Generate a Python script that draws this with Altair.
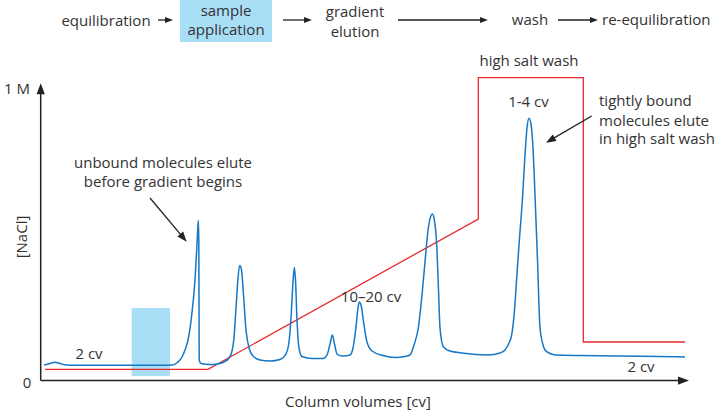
import math
import altair as alt
import pandas as pd

# ---------------- data (x in column volumes, y in % of the 1 M scale) ----------------
trace_cv = [0.4, 1.0, 1.5, 2.0, 2.6, 4.0, 8.0, 12.0, 13.2, 13.8, 14.2, 14.5, 14.8, 15.05,
            15.33, 15.5, 15.67, 15.76, 15.83, 15.88, 15.9, 15.92, 16.1, 17.0, 17.7, 18.4,
            18.9, 19.2, 19.4, 19.6, 19.8, 19.97, 20.15, 20.35, 20.6, 20.9, 21.3, 22.0, 23.0,
            24.0, 24.6, 24.9, 25.1, 25.3, 25.43, 25.55, 25.7, 25.9, 26.2, 27.2, 28.3, 28.7,
            29.0, 29.23, 29.45, 29.7, 30.3, 31.0, 31.3, 31.6, 31.8, 31.93, 32.1, 32.4, 32.7,
            33.2, 34.3, 35.5, 36.5, 37.0, 37.4, 37.83, 38.2, 38.5, 38.83, 39.05, 39.23, 39.4,
            39.67, 39.85, 40.0, 40.33, 41.0, 42.17, 44.8, 46.0, 46.5, 46.9, 47.17, 47.45,
            47.67, 47.9, 48.27, 48.5, 48.7, 48.9, 49.1, 49.3, 49.5, 49.75, 50.0, 50.25, 50.5,
            51.0, 51.6, 54.0, 58.0, 62.0, 64.5]
trace_val = [5.67, 6.17, 6.57, 6.17, 5.67, 5.57, 5.57, 5.57, 5.67, 6.67, 8.33, 10.67, 14.0,
             19.0, 27.33, 34.0, 44.0, 50.0, 53.83, 47.33, 27.33, 7.33, 6.17, 5.83, 6.0, 6.67,
             8.0, 10.33, 14.67, 24.67, 34.67, 38.83, 37.33, 29.0, 17.33, 11.33, 8.67, 7.33,
             7.0, 7.5, 9.33, 13.33, 21.33, 33.33, 38.17, 34.0, 20.67, 11.33, 8.5, 7.83, 7.83,
             9.0, 12.67, 15.67, 12.67, 9.33, 8.67, 9.0, 11.33, 18.33, 24.67, 26.67, 25.67,
             19.0, 13.33, 10.33, 8.83, 8.17, 8.5, 9.0, 12.33, 18.0, 29.0, 40.0, 51.33, 55.0,
             56.0, 54.67, 45.67, 30.67, 18.0, 11.77, 10.33, 9.67, 9.0, 9.67, 10.67, 13.0,
             15.67, 24.0, 34.67, 45.67, 62.33, 75.67, 84.67, 87.9, 86.0, 78.0, 62.33, 40.67,
             18.0, 13.0, 10.67, 9.5, 9.0, 8.83, 8.67, 8.5, 8.33]

salt_cv = [0.5, 16.8, 43.83, 43.83, 54.33, 54.33, 64.5]
salt_val = [4.23, 4.23, 54.33, 101.43, 101.43, 13.33, 13.33]

sample_box_cv = [9.17, 13.0]
sample_box_val = [2.0, 24.67]

header_box_cv = [14.0, 23.2]
header_box_val = [113.33, 127.33]

center_texts = ["equilibration", "sample", "application", "gradient", "elution", "wash",
                "unbound molecules elute", "before gradient begins", "10\u201320 cv",
                "2 cv", "2 cv", "high salt wash", "1-4 cv", "0", "Column volumes [cv]"]
center_cv = [6.6, 22.6 - 4.0, 18.6, 31.5, 31.5, 49.0, 12.3, 12.3, 33.1, 4.9, 60.1, 48.9,
             48.85, -1.3, 31.8]
center_val = [120.33, 123.67, 117.33, 123.33, 116.67, 120.67, 73.0, 66.77, 28.33, 9.33, 5.1,
              107.1, 93.43, -0.33, -6.57]

left_texts = ["re-equilibration", "tightly bound", "molecules elute", "in high salt wash"]
left_cv = [56.2, 55.9, 55.9, 55.9]
left_val = [120.67, 93.77, 87.1, 80.9]

right_texts = ["1 M"]
right_cv = [-1.0]
right_val = [97.7]

yaxis_title = ["[NaCl]"]
yaxis_title_cv = [-1.83]
yaxis_title_val = [48.33]

# arrows: start -> tip, head length in px
arrow_x1 = [11.8, 24.3, 35.8, 51.8, 11.0, 55.17, 0.07, 0.07]
arrow_y1 = [120.67, 120.67, 120.67, 120.67, 61.33, 88.67, 0.5, 0.5]
arrow_x2 = [13.3, 27.2, 44.8, 55.8, 14.67, 50.6, 0.07, 64.9]
arrow_y2 = [120.67, 120.67, 120.67, 120.67, 46.77, 79.77, 99.6, 0.5]
arrow_head = [8, 8, 8, 8, 10, 10, 11, 11]
arrow_w = [1.3, 1.3, 1.3, 1.3, 1.3, 1.3, 1.5, 1.5]

# ---------------- layout ----------------
W, H = 719, 413
XD = [-4.0, 67.9]
YD = [-31 / 3, 382 / 3]
PX_X = W / (XD[1] - XD[0])
PX_Y = H / (YD[1] - YD[0])

FONT = "Open Sans"
TXT = "#333333"
BLUE = "#1677c6"
RED = "#e8282b"
LIGHT = "#a9def7"
AX = "#222222"

xs = alt.Scale(domain=XD, nice=False, zero=False)
ys = alt.Scale(domain=YD, nice=False, zero=False)
X = lambda f: alt.X(f, type="quantitative", scale=xs, axis=None)
Y = lambda f: alt.Y(f, type="quantitative", scale=ys, axis=None)

trace_df = pd.DataFrame({"cv": trace_cv, "v": trace_val})
salt_df = pd.DataFrame({"cv": salt_cv, "v": salt_val, "o": list(range(len(salt_cv)))})
boxes_df = pd.DataFrame({
    "x1": [sample_box_cv[0], header_box_cv[0]], "x2": [sample_box_cv[1], header_box_cv[1]],
    "y1": [sample_box_val[0], header_box_val[0]], "y2": [sample_box_val[1], header_box_val[1]],
})

rows, heads = [], []
for x1, y1, x2, y2, hl, sw in zip(arrow_x1, arrow_y1, arrow_x2, arrow_y2, arrow_head, arrow_w):
    dxp = (x2 - x1) * PX_X
    dyp = -(y2 - y1) * PX_Y  # screen down positive
    L = math.hypot(dxp, dyp)
    ux, uy = dxp / L, dyp / L
    bx = x2 - ux * (hl - 1) / PX_X
    by = y2 + uy * (hl - 1) / PX_Y
    rows.append({"x1": x1, "y1": y1, "x2": bx, "y2": by, "w": sw})
    ang = math.degrees(math.atan2(dxp, -dyp)) % 360
    heads.append({"x": x2, "y": y2, "a": ang, "s": hl * hl})
arrow_df = pd.DataFrame(rows)
head_df = pd.DataFrame(heads)

boxes = alt.Chart(boxes_df).mark_rect(color=LIGHT).encode(
    x=X("x1"), x2="x2", y=Y("y1"), y2="y2")

salt = alt.Chart(salt_df).mark_line(color=RED, strokeWidth=1.3, interpolate="linear").encode(
    x=X("cv"), y=Y("v"), order="o:Q")

trace = alt.Chart(trace_df).mark_line(color=BLUE, strokeWidth=1.5, interpolate="monotone").encode(
    x=X("cv"), y=Y("v"))

arrow_lines = alt.Chart(arrow_df).mark_rule(color=AX).encode(
    x=X("x1"), y=Y("y1"), x2="x2", y2="y2",
    strokeWidth=alt.StrokeWidth("w:Q", scale=None))

arrow_heads = alt.Chart(head_df).mark_point(
    shape="M0,0L-0.75,2L0.75,2Z", filled=True, color=AX, opacity=1, strokeWidth=0).encode(
    x=X("x"), y=Y("y"),
    angle=alt.Angle("a:Q", scale=None),
    size=alt.Size("s:Q", scale=None))


def text_layer(texts, xv, yv, align, angle=0):
    df = pd.DataFrame({"t": texts, "x": xv, "y": yv})
    return alt.Chart(df).mark_text(font=FONT, fontSize=15, color=TXT, align=align,
                                   baseline="middle", angle=angle).encode(
        x=X("x"), y=Y("y"), text="t:N")


t_center = text_layer(center_texts, center_cv, center_val, "center")
t_left = text_layer(left_texts, left_cv, left_val, "left")
t_right = text_layer(right_texts, right_cv, right_val, "right")
t_title = text_layer(yaxis_title, yaxis_title_cv, yaxis_title_val, "center", angle=270)

chart = alt.layer(boxes, salt, trace, arrow_lines, arrow_heads,
                  t_center, t_left, t_right, t_title).properties(
    width=W, height=H, autosize=alt.AutoSizeParams(type="none"), padding=0,
    background="white",
).configure_view(stroke=None)

chart.save("out.html", embed_options={"renderer": "svg", "actions": False})
